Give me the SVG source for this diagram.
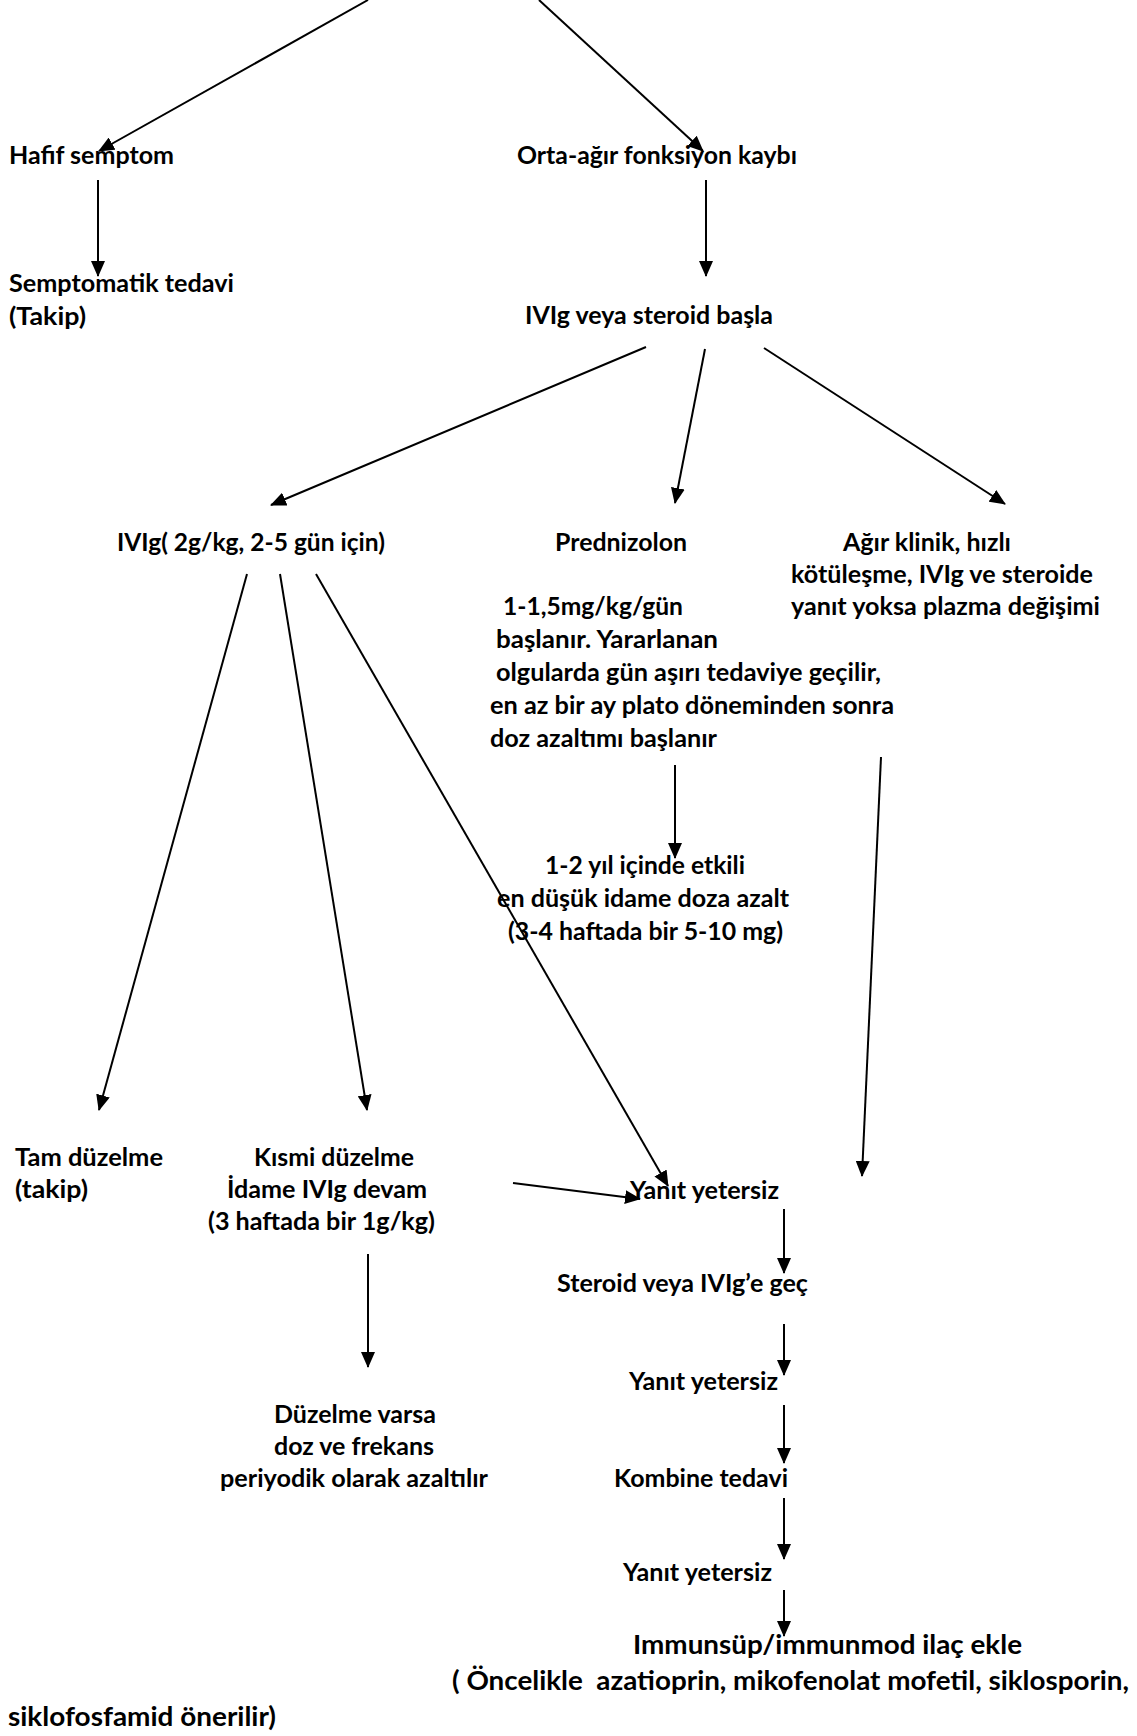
<svg xmlns="http://www.w3.org/2000/svg" width="1137" height="1736" viewBox="0 0 1137 1736">
<style>
  text { font-family: Lato, "Liberation Sans", "DejaVu Sans", sans-serif; font-weight: 700; font-size: 25px; fill: #000; }
  text.big { font-size: 27.5px; }
  .edge { stroke: #000; stroke-width: 2; fill: none; marker-end: url(#ah); }
</style>
<defs>
  <marker id="ah" markerUnits="userSpaceOnUse" markerWidth="16" markerHeight="14" refX="15" refY="7" orient="auto" viewBox="0 0 16 14">
    <path d="M0,0 L16,7 L0,14 z" fill="#000"/>
  </marker>
</defs>
<rect width="1137" height="1736" fill="#fff"/>

<g id="connectors">
  <line class="edge" x1="368" y1="0" x2="99" y2="151"/>
  <line class="edge" x1="539" y1="0" x2="703" y2="151"/>
  <line class="edge" x1="98" y1="180" x2="98" y2="276"/>
  <line class="edge" x1="706" y1="180" x2="706" y2="276"/>
  <line class="edge" x1="646" y1="347" x2="271" y2="505"/>
  <line class="edge" x1="705" y1="349" x2="675" y2="503"/>
  <line class="edge" x1="764" y1="348" x2="1005" y2="504"/>
  <line class="edge" x1="247" y1="574" x2="99" y2="1110"/>
  <line class="edge" x1="280" y1="574" x2="367" y2="1110"/>
  <line class="edge" x1="316" y1="574" x2="668" y2="1186"/>
  <line class="edge" x1="675" y1="765" x2="675" y2="858"/>
  <line class="edge" x1="881" y1="757" x2="862" y2="1176"/>
  <line class="edge" x1="513" y1="1183" x2="640" y2="1199"/>
  <line class="edge" x1="784" y1="1209" x2="784" y2="1273"/>
  <line class="edge" x1="784" y1="1324" x2="784" y2="1375"/>
  <line class="edge" x1="784" y1="1405" x2="784" y2="1463"/>
  <line class="edge" x1="784" y1="1498" x2="784" y2="1559"/>
  <line class="edge" x1="784" y1="1590" x2="784" y2="1636"/>
  <line class="edge" x1="368" y1="1254" x2="368" y2="1367"/>
</g>

<g id="hafif"><text x="9" y="164" textLength="165" lengthAdjust="spacingAndGlyphs">Hafif semptom</text></g>
<g id="orta"><text x="517" y="164" textLength="280" lengthAdjust="spacingAndGlyphs">Orta-ağır fonksiyon kaybı</text></g>
<g id="semptomatik">
  <text x="9" y="292" textLength="225" lengthAdjust="spacingAndGlyphs">Semptomatik tedavi</text>
  <text x="9" y="325" textLength="77" lengthAdjust="spacingAndGlyphs">(Takip)</text>
</g>
<g id="ivig-steroid"><text x="525" y="324" textLength="248" lengthAdjust="spacingAndGlyphs">IVIg veya steroid başla</text></g>
<g id="ivig"><text x="117" y="551" textLength="268" lengthAdjust="spacingAndGlyphs">IVIg( 2g/kg, 2-5 gün için)</text></g>
<g id="prednizolon"><text x="555" y="551" textLength="132" lengthAdjust="spacingAndGlyphs">Prednizolon</text></g>
<g id="plazma">
  <text x="843" y="551" textLength="168" lengthAdjust="spacingAndGlyphs">Ağır klinik, hızlı</text>
  <text x="791" y="583" textLength="302" lengthAdjust="spacingAndGlyphs">kötüleşme, IVIg ve steroide</text>
  <text x="791" y="615" textLength="309" lengthAdjust="spacingAndGlyphs">yanıt yoksa plazma değişimi</text>
</g>
<g id="prednizolon-doz">
  <text x="503" y="615" textLength="180" lengthAdjust="spacingAndGlyphs">1-1,5mg/kg/gün</text>
  <text x="496" y="648" textLength="222" lengthAdjust="spacingAndGlyphs">başlanır. Yararlanan</text>
  <text x="496" y="681" textLength="385" lengthAdjust="spacingAndGlyphs">olgularda gün aşırı tedaviye geçilir,</text>
  <text x="490" y="714" textLength="404" lengthAdjust="spacingAndGlyphs">en az bir ay plato döneminden sonra</text>
  <text x="490" y="747" textLength="227" lengthAdjust="spacingAndGlyphs">doz azaltımı başlanır</text>
</g>
<g id="idame-doz">
  <text x="545" y="874" textLength="200" lengthAdjust="spacingAndGlyphs">1-2 yıl içinde etkili</text>
  <text x="497" y="907" textLength="292" lengthAdjust="spacingAndGlyphs">en düşük idame doza azalt</text>
  <text x="508" y="940" textLength="275" lengthAdjust="spacingAndGlyphs">(3-4 haftada bir 5-10 mg)</text>
</g>
<g id="tam">
  <text x="15" y="1166" textLength="148" lengthAdjust="spacingAndGlyphs">Tam düzelme</text>
  <text x="15" y="1198" textLength="73" lengthAdjust="spacingAndGlyphs">(takip)</text>
</g>
<g id="kismi">
  <text x="254" y="1166" textLength="160" lengthAdjust="spacingAndGlyphs">Kısmi düzelme</text>
  <text x="227" y="1198" textLength="200" lengthAdjust="spacingAndGlyphs">İdame IVIg devam</text>
  <text x="208" y="1230" textLength="227" lengthAdjust="spacingAndGlyphs">(3 haftada bir 1g/kg)</text>
</g>
<g id="yanit1"><text x="630" y="1199" textLength="149" lengthAdjust="spacingAndGlyphs">Yanıt yetersiz</text></g>
<g id="steroid-gec"><text x="557" y="1292" textLength="251" lengthAdjust="spacingAndGlyphs">Steroid veya IVIg’e geç</text></g>
<g id="yanit2"><text x="629" y="1390" textLength="149" lengthAdjust="spacingAndGlyphs">Yanıt yetersiz</text></g>
<g id="duzelme">
  <text x="274" y="1423" textLength="162" lengthAdjust="spacingAndGlyphs">Düzelme varsa</text>
  <text x="274" y="1455" textLength="160" lengthAdjust="spacingAndGlyphs">doz ve frekans</text>
  <text x="220" y="1487" textLength="268" lengthAdjust="spacingAndGlyphs">periyodik olarak azaltılır</text>
</g>
<g id="kombine"><text x="614" y="1487" textLength="174" lengthAdjust="spacingAndGlyphs">Kombine tedavi</text></g>
<g id="yanit3"><text x="623" y="1581" textLength="149" lengthAdjust="spacingAndGlyphs">Yanıt yetersiz</text></g>
<g id="immunsup">
  <text class="big" x="633" y="1654" textLength="389" lengthAdjust="spacingAndGlyphs">Immunsüp/immunmod ilaç ekle</text>
  <text class="big" x="452" y="1690" textLength="677" lengthAdjust="spacingAndGlyphs" style="white-space:pre">( Öncelikle  azatioprin, mikofenolat mofetil, siklosporin,</text>
  <text class="big" x="8" y="1726" textLength="268" lengthAdjust="spacingAndGlyphs">siklofosfamid önerilir)</text>
</g>
</svg>
